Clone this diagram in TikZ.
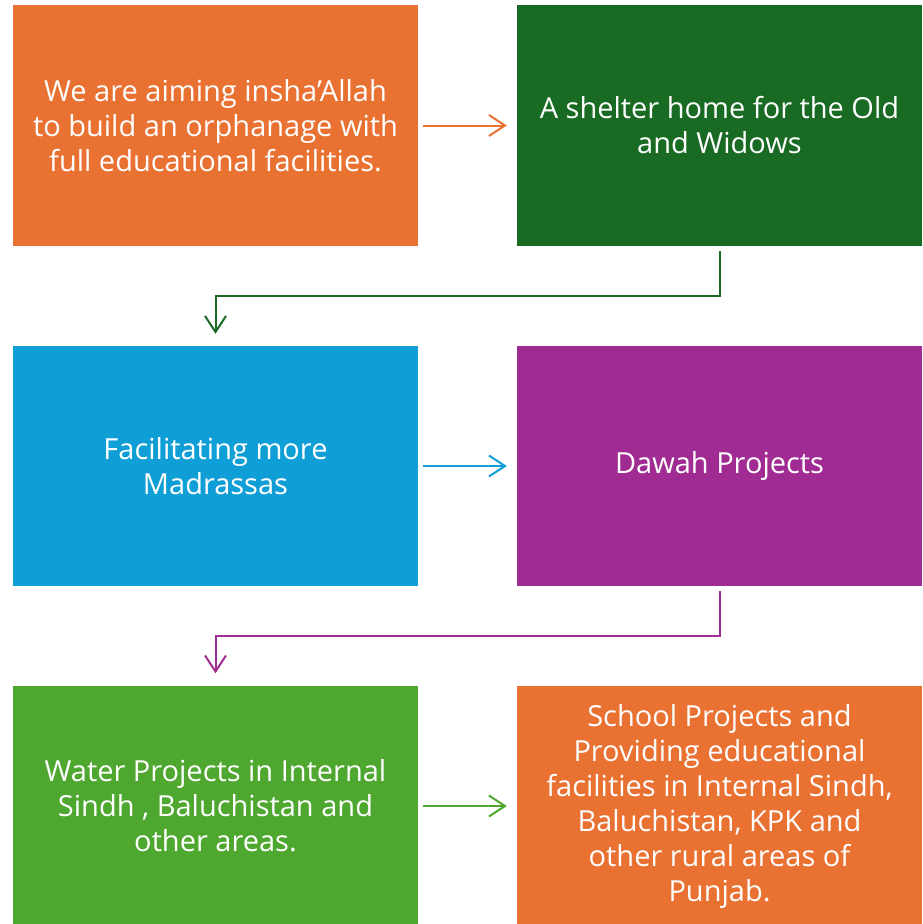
\documentclass[tikz,border=0pt]{standalone}
\usepackage{fontspec}
\setmainfont{Open Sans}
\usepackage{xcolor}
\usetikzlibrary{positioning, arrows.meta}

\definecolor{orangeA}{HTML}{E97132}
\definecolor{greenD}{HTML}{196B24}
\definecolor{blueA}{HTML}{0F9ED5}
\definecolor{purpleA}{HTML}{A02B93}
\definecolor{greenL}{HTML}{4EA72E}

\tikzset{
  card/.style={fill=#1, minimum width=405pt, minimum height=241pt, text=white,
    align=center, inner sep=0pt, font=\fontsize{29}{35}\selectfont},
  link/.style={draw=#1, line width=2pt, -{Straight Barb[length=16pt,width=21pt,line width=2pt]}}
}

\begin{document}
\begin{tikzpicture}[x=1pt, y=-1pt]
        \useasboundingbox (0,0) rectangle (922,924);
        \clip (0,0) rectangle (922,924);

        % Boites
        \node [card=orangeA] (A) at (215.5,125.5) {We are aiming insha’Allah\\to build an orphanage with\\full educational facilities.};
        \node [card=greenD] (B) at (719.5,125.5) {A shelter home for the Old\\and Widows};
        \node [card=blueA, minimum height=240pt] (C) at (215.5,466) {Facilitating more\\Madrassas};
        \node [card=purpleA, minimum height=240pt] (D) at (719.5,466) {Dawah Projects};
        \node [card=greenL] (E) at (215.5,806) {Water Projects in Internal\\Sindh , Baluchistan and\\other areas.};
        \node [card=orangeA] (F) at (719.5,806) {School Projects and\\Providing educational\\facilities in Internal Sindh,\\Baluchistan, KPK and\\other rural areas of\\Punjab.};

        % Fleches horizontales
        \draw [link=orangeA, shorten <=5pt, shorten >=10pt] (A) -- (B);
        \draw [link=blueA, shorten <=5pt, shorten >=10pt] (C) -- (D);
        \draw [link=greenL, shorten <=5pt, shorten >=10pt] (E) -- (F);

        % Fleches coudees
        \draw [link=greenD] ([yshift=-5pt]B.south) -- ++(0,45) -| ([yshift=12pt]C.north);
        \draw [link=purpleA] ([yshift=-5pt]D.south) -- ++(0,45) -| ([yshift=12pt]E.north);

\end{tikzpicture}
\end{document}
